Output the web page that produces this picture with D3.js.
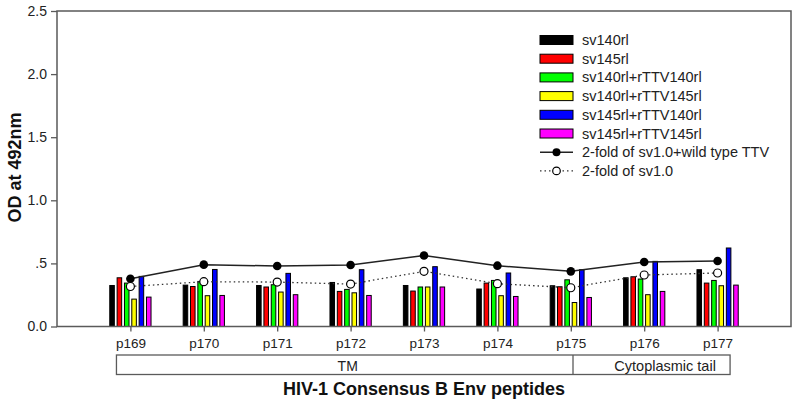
<!DOCTYPE html>
<html><head><meta charset="utf-8">
<script src="https://cdn.jsdelivr.net/npm/d3@7"></script>
<style>html,body{margin:0;padding:0;background:#fff;} svg{display:block;font-family:"Liberation Sans",Arial,sans-serif;}</style>
</head><body>
<svg id="chart" width="800" height="404"></svg>
<script>
const categories = ["p169","p170","p171","p172","p173","p174","p175","p176","p177"];
const seriesNames = ["sv140rl","sv145rl","sv140rl+rTTV140rl","sv140rl+rTTV145rl","sv145rl+rTTV140rl","sv145rl+rTTV145rl"];
const seriesColors = ["#000000","#ff0000","#00ff00","#ffff00","#0000ff","#ff00ff"];
const sv140rl =           [0.325,0.328,0.325,0.349,0.325,0.297,0.323,0.386,0.450];
const sv145rl =           [0.386,0.317,0.313,0.278,0.281,0.344,0.315,0.394,0.344];
const sv140rl_rTTV140rl = [0.344,0.357,0.331,0.294,0.313,0.365,0.370,0.376,0.365];
const sv140rl_rTTV145rl = [0.217,0.244,0.273,0.267,0.313,0.244,0.190,0.252,0.323];
const sv145rl_rTTV140rl = [0.397,0.452,0.421,0.450,0.474,0.424,0.450,0.516,0.622];
const sv145rl_rTTV145rl = [0.233,0.246,0.252,0.246,0.313,0.238,0.230,0.278,0.328];
const lineNames = ["2-fold of sv1.0+wild type TTV","2-fold of sv1.0"];
const wildTypeTTV = [0.378,0.490,0.479,0.487,0.563,0.482,0.437,0.511,0.519];
const sv10 =        [0.317,0.355,0.352,0.336,0.437,0.339,0.307,0.408,0.424];
const yTicks = [0,0.5,1.0,1.5,2.0,2.5];
const yTickLabels = ["0.0",".5","1.0","1.5","2.0","2.5"];
const regions = [{label:"TM", from:"p169", to:"p175"},{label:"Cytoplasmic tail", from:"p175", to:"p177"}];

const barSeries = [sv140rl,sv145rl,sv140rl_rTTV140rl,sv140rl_rTTV145rl,sv145rl_rTTV140rl,sv145rl_rTTV145rl];
const svg = d3.select("#chart");
const L=57, R=791, T=11, B=326.5;
const x = d3.scaleLinear().domain([0,10]).range([L,R]);
const y = d3.scaleLinear().domain([0,2.5]).range([B,T]);
const pos = c => categories.indexOf(c)+1;
const pitch = 0.1, bw = 0.062;

// bars
barSeries.forEach((vals,si)=>{
  svg.append("g").selectAll("rect").data(vals).join("rect")
    .attr("x",(d,i)=>x(i+1+(si-2.5)*pitch-bw/2))
    .attr("width",x(bw)-x(0))
    .attr("y",d=>y(d))
    .attr("height",d=>y(0)-y(d))
    .attr("fill",seriesColors[si])
    .attr("stroke","#000").attr("stroke-width",1);
});

// lines
const lineGen = d3.line().x((d,i)=>x(i+1)).y(d=>y(d));
svg.append("path").datum(sv10).attr("d",lineGen).attr("fill","none")
  .attr("stroke","#333").attr("stroke-width",1.3).attr("stroke-dasharray","1.5,3");
svg.append("path").datum(wildTypeTTV).attr("d",lineGen).attr("fill","none")
  .attr("stroke","#222").attr("stroke-width",1.5);
svg.append("g").selectAll("circle").data(wildTypeTTV).join("circle")
  .attr("cx",(d,i)=>x(i+1)).attr("cy",d=>y(d)).attr("r",4.3).attr("fill","#000");
svg.append("g").selectAll("circle").data(sv10).join("circle")
  .attr("cx",(d,i)=>x(i+1)).attr("cy",d=>y(d)).attr("r",4).attr("fill","#fff")
  .attr("stroke","#000").attr("stroke-width",1.2);

// frame
svg.append("rect").attr("x",L).attr("y",T).attr("width",R-L).attr("height",B-T)
  .attr("fill","none").attr("stroke","#5a5a5a").attr("stroke-width",1.5);

// y axis
const yAxis = d3.axisLeft(y).tickValues(yTicks).tickFormat((d,i)=>yTickLabels[i]).tickSize(6).tickPadding(4);
const gy = svg.append("g").attr("transform",`translate(${L},0)`).call(yAxis);
gy.select(".domain").remove();
gy.selectAll(".tick line").attr("stroke","#5a5a5a").attr("stroke-width",1.3);
gy.selectAll(".tick text").attr("font-size",14).attr("fill","#222").attr("font-family","Liberation Sans, Arial, sans-serif");

// x axis
const xAxis = d3.axisBottom(x).tickValues(categories.map(pos)).tickFormat((d)=>categories[d-1]).tickSize(5).tickPadding(7);
const gx = svg.append("g").attr("transform",`translate(0,${B})`).call(xAxis);
gx.select(".domain").remove();
gx.selectAll(".tick line").attr("stroke","#5a5a5a").attr("stroke-width",1.3);
gx.selectAll(".tick text").attr("font-size",13.5).attr("fill","#222").attr("font-family","Liberation Sans, Arial, sans-serif");

// region box
const boxTop=355, boxBot=374.5;
const leftEdge = x(pos(regions[0].from)-0.19);
const rightEdge = x(pos(regions[1].to)+0.17);
const divX = x(pos(regions[0].to)+0.03);
svg.append("rect").attr("x",leftEdge).attr("y",boxTop).attr("width",rightEdge-leftEdge).attr("height",boxBot-boxTop)
  .attr("fill","none").attr("stroke","#5a5a5a").attr("stroke-width",1.3);
svg.append("line").attr("x1",divX).attr("x2",divX).attr("y1",boxTop).attr("y2",boxBot)
  .attr("stroke","#5a5a5a").attr("stroke-width",1.3);
svg.append("text").attr("x",(leftEdge+divX)/2+3).attr("y",370.5).attr("text-anchor","middle")
  .attr("font-size",14).attr("fill","#222").text(regions[0].label);
svg.append("text").attr("x",(x(pos(regions[1].from)+0.4)+rightEdge)/2).attr("y",370.5).attr("text-anchor","middle")
  .attr("font-size",14.5).attr("fill","#222").text(regions[1].label);

// titles
svg.append("text").attr("x",(L+R)/2).attr("y",395).attr("text-anchor","middle")
  .attr("font-size",18).attr("font-weight","bold").attr("fill","#111").text("HIV-1 Consensus B Env peptides");
svg.append("text").attr("transform","translate(21,167.5) rotate(-90)").attr("text-anchor","middle")
  .attr("font-size",18).attr("font-weight","bold").attr("fill","#111").text("OD at 492nm");

// legend
const legX=540, legW=33, legY0=40, legDy=18.7, legTx=582;
seriesNames.forEach((n,i)=>{
  const cy = legY0+i*legDy;
  svg.append("rect").attr("x",legX).attr("y",cy-4.5).attr("width",legW).attr("height",9)
    .attr("fill",seriesColors[i]).attr("stroke","#000").attr("stroke-width",1);
  svg.append("text").attr("x",legTx).attr("y",cy+5).attr("font-size",14.5).attr("fill","#222").text(n);
});
lineNames.forEach((n,i)=>{
  const cy = legY0+(6+i)*legDy;
  const l = svg.append("line").attr("x1",legX).attr("x2",legX+legW).attr("y1",cy).attr("y2",cy);
  if(i===0){
    l.attr("stroke","#222").attr("stroke-width",1.5);
    svg.append("circle").attr("cx",legX+legW/2).attr("cy",cy).attr("r",4).attr("fill","#000");
  } else {
    l.attr("stroke","#333").attr("stroke-width",1.3).attr("stroke-dasharray","1.5,3");
    svg.append("circle").attr("cx",legX+legW/2).attr("cy",cy).attr("r",3.8).attr("fill","#fff").attr("stroke","#000").attr("stroke-width",1.2);
  }
  svg.append("text").attr("x",legTx).attr("y",cy+5).attr("font-size",14.5).attr("fill","#222").text(n);
});
</script>
</body></html>
